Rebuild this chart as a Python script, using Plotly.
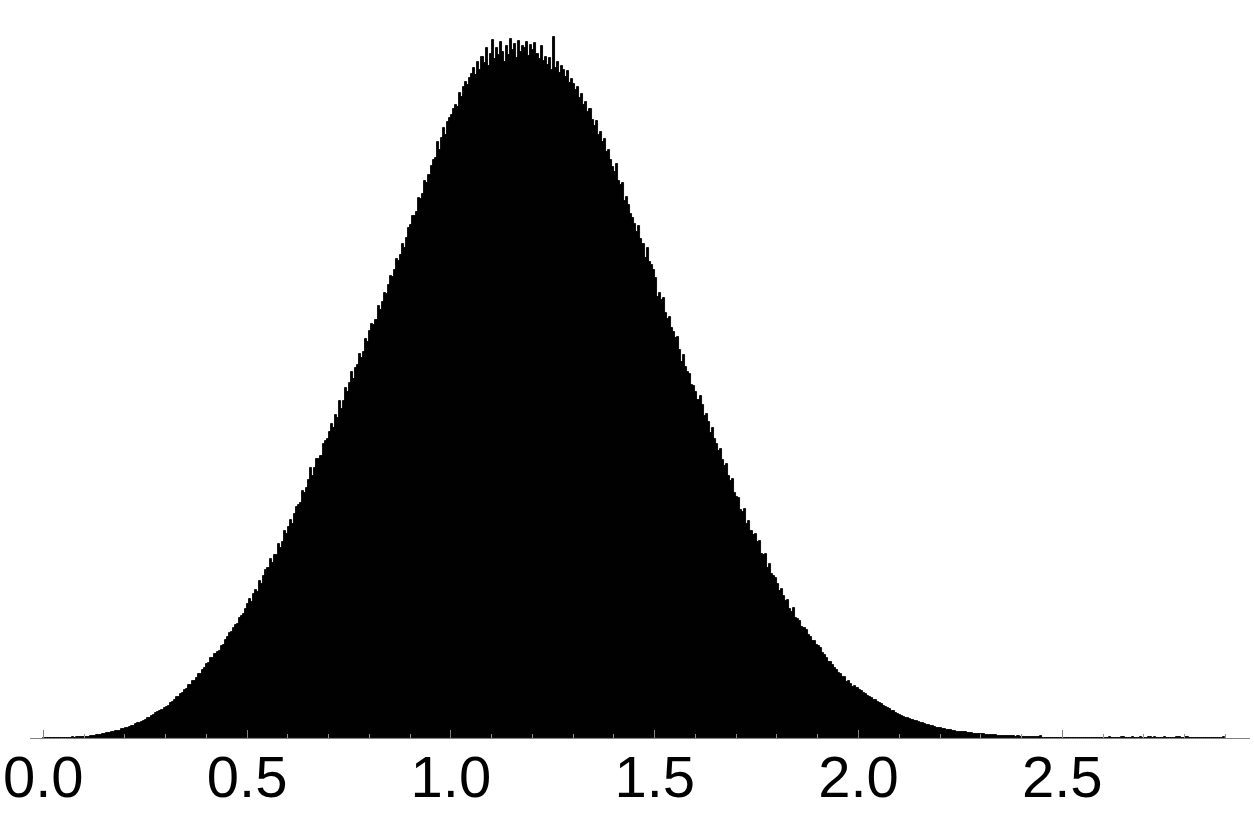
import numpy as np
import plotly.graph_objects as go

# Histogram: bins of width 0.005 starting at 0.0; heights (relative counts)
bin_start = 0.0
bin_width = 0.005
heights = [
    # 0.00-0.05
    0, 0, 0, 0, 0, 0.5, 0.4, 0, 0.3, 0,
    # 0.05-0.10
    0.3, 0.4, 0, 0.5, 0.6, 0.5, 0.7, 0.6, 0.8, 0.9,
    # 0.10-0.15
    1.0, 1.1, 1.5, 1.6, 2.0, 2.3, 2.6, 3.0, 3.4, 3.8,
    # 0.15-0.20
    4.2, 4.9, 5.1, 5.8, 6.0, 6.9, 7.3, 7.5, 8.6, 9.0,
    # 0.20-0.25
    9.6, 10.4, 10.8, 12.2, 12.5, 13.6, 14.9, 15.3, 16.4, 17.1,
    # 0.25-0.30
    18.3, 19.8, 20.2, 22.5, 22.8, 24.6, 26.3, 27.0, 28.2, 30.1,
    # 0.30-0.35
    31.5, 32.4, 35.2, 35.8, 37.9, 40.6, 41.0, 44.3, 45.1, 47.6,
    # 0.35-0.40
    49.5, 52.8, 53.1, 56.9, 57.5, 60.2, 63.8, 63.9, 68.0, 70.4,
    # 0.40-0.45
    74.2, 75.0, 79.6, 80.3, 84.1, 86.0, 87.2, 92.5, 93.0, 97.8,
    # 0.45-0.50
    101.2, 104.8, 106.0, 110.5, 113.1, 113.8, 119.6, 122.0, 124.2, 129.0,
    # 0.50-0.55
    134.0, 139.5, 135.9, 144.0, 148.2, 146.3, 157.0, 154.4, 162.2, 167.8,
    # 0.55-0.60
    170.5, 179.0, 174.9, 183.1, 182.6, 194.4, 190.0, 196.5, 207.2, 203.8,
    # 0.60-0.65
    211.0, 218.5, 214.2, 224.0, 231.3, 232.8, 235.1, 247.0, 244.6, 250.2,
    # 0.65-0.70
    258.0, 269.8, 262.1, 270.5, 279.0, 279.5, 282.0, 294.3, 296.8, 299.5,
    # 0.70-0.75
    306.5, 314.0, 310.2, 322.8, 320.0, 337.1, 329.5, 337.0, 349.8, 346.2,
    # 0.75-0.80
    355.0, 366.5, 359.0, 370.4, 372.8, 384.2, 380.0, 386.5, 399.0, 396.1,
    # 0.80-0.85
    407.0, 414.5, 412.8, 418.0, 432.5, 428.1, 436.2, 445.0, 444.5, 453.3,
    # 0.85-0.90
    462.0, 461.5, 468.2, 479.0, 477.3, 483.0, 494.1, 490.5, 500.2, 509.8,
    # 0.90-0.95
    513.0, 521.8, 522.4, 526.0, 540.2, 538.8, 544.0, 557.5, 555.1, 563.4,
    # 0.95-1.00
    572.0, 578.5, 580.3, 596.1, 588.0, 600.5, 610.2, 602.8, 616.0, 620.3,
    # 1.00-1.05
    623.0, 629.5, 633.1, 631.0, 645.2, 641.5, 651.0, 655.6, 653.0, 660.4,
    # 1.05-1.10
    664.0, 670.5, 662.8, 676.2, 668.0, 681.5, 675.0, 689.9, 672.4, 684.0,
    # 1.10-1.15
    698.0, 679.5, 690.2, 683.0, 695.8, 686.1, 676.0, 692.4, 683.5, 699.0,
    # 1.15-1.20
    688.2, 694.0, 680.5, 697.3, 686.0, 691.8, 690.0, 696.2, 682.4, 693.5,
    # 1.20-1.25
    688.0, 695.2, 684.1, 679.0, 692.5, 677.0, 681.2, 672.8, 680.5, 668.0,
    # 1.25-1.30
    701.0, 670.2, 676.5, 665.0, 672.0, 668.4, 661.0, 666.8, 655.5, 659.0,
    # 1.30-1.35
    654.0, 648.5, 651.2, 640.0, 643.8, 633.1, 636.0, 626.5, 629.0, 618.2,
    # 1.35-1.40
    612.0, 617.5, 603.2, 606.0, 596.4, 599.1, 586.0, 588.5, 578.2, 571.0,
    # 1.40-1.45
    566.0, 574.5, 557.0, 552.8, 555.5, 537.1, 541.0, 532.6, 524.0, 520.2,
    # 1.45-1.50
    514.0, 506.2, 512.5, 499.0, 494.5, 480.2, 490.0, 476.5, 472.8, 468.0,
    # 1.50-1.55
    460.2, 441.5, 445.0, 438.3, 440.1, 425.0, 419.5, 420.8, 410.3, 406.0,
    # 1.55-1.60
    400.2, 401.0, 388.5, 376.2, 383.0, 371.5, 366.0, 364.2, 352.8, 352.0,
    # 1.60-1.65
    346.0, 338.5, 341.8, 333.0, 322.1, 324.5, 316.0, 304.8, 310.5, 299.0,
    # 1.65-1.70
    294.0, 287.5, 289.2, 278.0, 271.6, 274.0, 261.8, 257.5, 259.2, 245.0,
    # 1.70-1.75
    241.5, 240.0, 228.2, 226.0, 228.8, 214.5, 217.0, 207.2, 203.5, 204.0,
    # 1.75-1.80
    196.0, 197.5, 184.2, 183.0, 183.8, 170.5, 174.0, 164.3, 162.0, 160.5,
    # 1.80-1.85
    154.0, 147.2, 149.5, 142.0, 136.8, 138.2, 129.0, 126.5, 130.2, 120.0,
    # 1.85-1.90
    119.0, 117.5, 111.2, 110.0, 108.5, 103.0, 101.2, 97.4, 97.0, 93.5,
    # 1.90-1.95
    92.0, 90.5, 85.2, 83.0, 80.1, 75.8, 76.5, 73.0, 70.2, 68.0,
    # 1.95-2.00
    65.5, 63.8, 61.0, 61.5, 56.2, 57.0, 54.5, 51.2, 52.0, 50.1,
    # 2.00-2.05
    48.2, 47.0, 45.5, 44.0, 42.1, 41.5, 39.8, 38.0, 38.5, 36.4,
    # 2.05-2.10
    35.0, 33.8, 32.5, 31.0, 30.2, 28.6, 27.5, 26.8, 25.0, 24.2,
    # 2.10-2.15
    23.0, 22.5, 21.0, 20.4, 19.6, 18.8, 18.0, 17.2, 16.6, 16.0,
    # 2.15-2.20
    15.5, 14.6, 14.0, 13.5, 12.8, 12.2, 11.6, 11.0, 10.5, 10.2,
    # 2.20-2.25
    9.8, 9.0, 8.8, 8.2, 7.9, 7.6, 7.0, 6.8, 6.5, 6.2,
    # 2.25-2.30
    6.0, 5.6, 5.8, 5.2, 4.9, 5.0, 4.5, 4.4, 4.2, 4.0,
    # 2.30-2.35
    3.9, 3.6, 3.4, 3.5, 3.0, 2.9, 3.1, 2.6, 2.5, 2.4,
    # 2.35-2.40
    2.3, 2.1, 2.2, 1.9, 1.8, 1.9, 1.6, 1.5, 1.6, 1.4,
    # 2.40-2.45
    1.4, 1.3, 1.2, 1.3, 1.1, 1.0, 1.1, 0.9, 0.9, 2.5,
    # 2.45-2.50
    0, 0, 0, 0, 0, 0, 0, 0, 0, 0,
    # 2.50-2.55
    0, 0, 0, 0, 0, 0, 0, 0, 0, 0,
    # 2.55-2.60
    0, 0, 0, 0, 0, 0, 0, 0, 0, 0,
    # 2.60-2.65
    0, 0, 0, 0.8, 0, 0, 0, 0, 0, 0.8,
    # 2.65-2.70
    0.8, 0, 0, 0, 0.8, 0, 0, 0, 0.8, 0,
    # 2.70-2.75
    0, 0, 0.8, 0.8, 0, 0.8, 0, 0, 0, 0,
    # 2.75-2.80
    0.8, 0, 0, 0, 0, 0, 0.8, 0.8, 0, 0,
    # 2.80-2.85
    0.8, 0.8, 0, 0, 0, 0, 0, 0, 0, 0,
    # 2.85-2.90
    0, 0, 0, 0, 0, 0, 0, 0, 0, 0.8,
]

tick_values = [0.0, 0.5, 1.0, 1.5, 2.0, 2.5]
tick_labels = ["0.0", "0.5", "1.0", "1.5", "2.0", "2.5"]

centers = bin_start + bin_width * (np.arange(len(heights)) + 0.5)

fig = go.Figure(
    go.Bar(
        x=centers,
        y=heights,
        width=bin_width,
        marker=dict(color="black", line=dict(color="black", width=0.9)),
        hoverinfo="x+y",
    )
)

fig.update_layout(
    width=1254,
    height=818,
    margin=dict(l=30, r=4, t=20, b=80),
    paper_bgcolor="white",
    plot_bgcolor="white",
    bargap=0,
    showlegend=False,
    font=dict(family="Liberation Sans, Arial, sans-serif", color="black"),
)

fig.update_xaxes(
    range=[-0.0326, 2.9605],
    automargin=False,
    tickmode="array",
    tickvals=tick_values,
    ticktext=tick_labels,
    ticks="inside",
    ticklen=8,
    tickwidth=1,
    tickcolor="#808080",
    tickfont=dict(size=58, color="black"),
    ticklabelstandoff=-12,
    ticklabeloverflow="allow",
    showline=True,
    linecolor="#808080",
    linewidth=1,
    showgrid=False,
    zeroline=False,
    layer="above traces",
    minor=dict(dtick=0.1, tick0=0, ticks="inside", ticklen=4, tickcolor="#909090", tickwidth=1, showgrid=False),
)

fig.update_yaxes(
    range=[0, 718],
    automargin=False,
    visible=False,
    showgrid=False,
    zeroline=False,
)

fig.write_html(
    "out.html",
    config={"displayModeBar": False},
    post_script="document.body.style.margin='0';document.body.style.overflow='hidden';",
)
